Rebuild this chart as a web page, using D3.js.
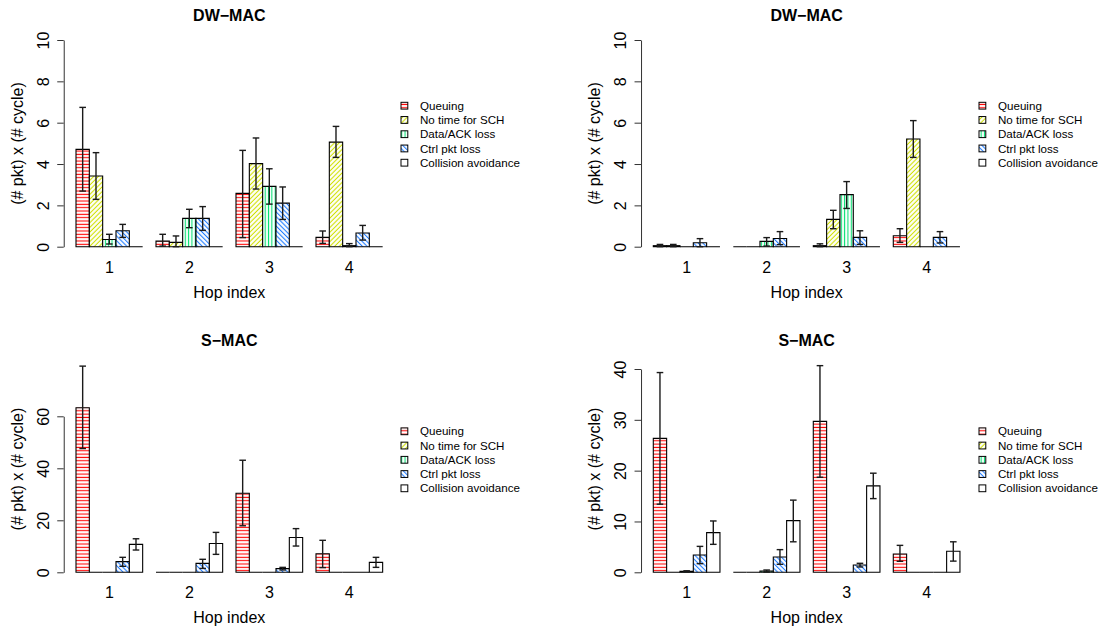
<!DOCTYPE html>
<html><head><meta charset="utf-8">
<script src="https://cdn.jsdelivr.net/npm/d3@7"></script>
<style>body{margin:0;background:#fff}</style>
</head><body>
<script>
// ---------- data ----------
const hops = ["1", "2", "3", "4"];
const seriesNames = ["Queuing", "No time for SCH", "Data/ACK loss", "Ctrl pkt loss", "Collision avoidance"];
const seriesColors = ["#ff0000", "#cfe000", "#00e070", "#1e7bff", null];
const hatchAngles = [0, -45, 90, 45, null];

// DW-MAC (left): rows = series, columns = hops
const dwLeftMean  = [[4.71, 0.27, 2.58, 0.45], [3.42, 0.21, 4.02, 5.06], [0.35, 1.37, 2.92, 0.05], [0.77, 1.37, 2.11, 0.66], [0, 0, 0, 0]];
const dwLeftUpper = [[6.74, 0.60, 4.66, 0.76], [4.55, 0.52, 5.26, 5.82], [0.60, 1.81, 3.77, 0.15], [1.08, 1.94, 2.89, 1.03], [0, 0, 0, 0]];
const dwLeftLower = [[2.69, 0.03, 0.44, 0.16], [2.29, 0.00, 2.79, 4.32], [0.13, 0.92, 2.06, 0.00], [0.45, 0.79, 1.32, 0.32], [0, 0, 0, 0]];

// DW-MAC (right)
const dwRightMean  = [[0.05, 0, 0.05, 0.53], [0.05, 0, 1.32, 5.21], [0, 0.26, 2.52, 0], [0.19, 0.40, 0.45, 0.45], [0, 0, 0, 0]];
const dwRightUpper = [[0.11, 0, 0.14, 0.87], [0.11, 0, 1.76, 6.10], [0, 0.44, 3.15, 0], [0.39, 0.73, 0.77, 0.73], [0, 0, 0, 0]];
const dwRightLower = [[0.00, 0, 0.00, 0.21], [0.00, 0, 0.87, 4.32], [0, 0.03, 1.85, 0], [0.00, 0.10, 0.11, 0.18], [0, 0, 0, 0]];

// S-MAC (left)
const smLeftMean  = [[63.3, 0, 30.4, 7.15], [0, 0, 0, 0], [0, 0, 0, 0], [4.10, 3.45, 1.40, 0], [10.75, 11.1, 13.4, 3.80]];
const smLeftUpper = [[79.3, 0, 43.1, 12.3], [0, 0, 0, 0], [0, 0, 0, 0], [5.76, 5.00, 1.90, 0], [12.90, 15.35, 16.8, 5.75]];
const smLeftLower = [[47.6, 0, 17.9, 1.80], [0, 0, 0, 0], [0, 0, 0, 0], [2.30, 1.50, 0.90, 0], [8.57, 6.90, 10.1, 1.90]];

// S-MAC (right)
const smRightMean  = [[26.36, 0, 29.7, 3.60], [0, 0, 0, 0], [0.20, 0.25, 0, 0], [3.40, 3.00, 1.44, 0], [7.80, 10.16, 17.0, 4.13]];
const smRightUpper = [[39.3, 0, 40.66, 5.30], [0, 0, 0, 0], [0.30, 0.45, 0, 0], [5.10, 4.46, 1.77, 0], [10.1, 14.2, 19.5, 6.00]];
const smRightLower = [[13.4, 0, 18.7, 2.16], [0, 0, 0, 0], [0.10, 0.05, 0, 0], [1.70, 1.57, 1.05, 0], [5.50, 6.00, 14.5, 2.20]];

const dwTicks = [0, 2, 4, 6, 8, 10];
const smLeftTicks = [0, 20, 40, 60];
const smRightTicks = [0, 10, 20, 30, 40];

// ---------- drawing ----------
const FONT = "'Liberation Sans', Arial, Helvetica, sans-serif";
const svg = d3.select("body").append("svg").attr("width", 1104).attr("height", 630)
  .style("font-family", FONT);
const defs = svg.append("defs");

seriesColors.forEach((c, i) => {
  if (!c) return;
  const p = defs.append("pattern").attr("id", "hatch" + i)
    .attr("patternUnits", "userSpaceOnUse").attr("width", 10).attr("height", 3.33)
    .attr("patternTransform", `rotate(${hatchAngles[i]})`);
  p.append("rect").attr("width", 10).attr("height", 3.33).attr("fill", "#fff");
  p.append("line").attr("x1", 0).attr("x2", 10).attr("y1", 1.2).attr("y2", 1.2)
    .attr("stroke", c).attr("stroke-width", 1.1);
});
const fillOf = i => seriesColors[i] ? `url(#hatch${i})` : "#fff";

const panels = [
  {title: "DW\u2212MAC", mean: dwLeftMean, up: dwLeftUpper, lo: dwLeftLower, ticks: dwTicks,
   bar0: 76, yBase: 246.7, yTop: 40, dy: 0, legX: 401},
  {title: "DW\u2212MAC", mean: dwRightMean, up: dwRightUpper, lo: dwRightLower, ticks: dwTicks,
   bar0: 653.3, yBase: 246.7, yTop: 40, dy: 0, legX: 979},
  {title: "S\u2212MAC", mean: smLeftMean, up: smLeftUpper, lo: smLeftLower, ticks: smLeftTicks,
   bar0: 76, yBase: 572.3, yTop: 416.3, dy: 325.6, legX: 401},
  {title: "S\u2212MAC", mean: smRightMean, up: smRightUpper, lo: smRightLower, ticks: smRightTicks,
   bar0: 653.3, yBase: 572.3, yTop: 369, dy: 325.6, legX: 979}
];

const BW = 13.333;
panels.forEach(P => {
  const g = svg.append("g");
  const x = d3.scaleLinear().domain([1, 24]).range([P.bar0, P.bar0 + 23 * BW]);
  const ymax = P.ticks[P.ticks.length - 1];
  const y = d3.scaleLinear().domain([0, ymax]).range([P.yBase, P.yTop]);
  const axisX = x(0.08);
  const cx = (x(0.08) + x(24.92)) / 2;

  // bars
  const bars = [];
  P.mean.forEach((row, s) => row.forEach((v, h) => {
    bars.push({s, h, v, up: P.up[s][h], lo: P.lo[s][h], u: 1 + h * 6 + s});
  }));
  g.selectAll("path.bar").data(bars).join("path").attr("class", "bar")
    .attr("d", d => {
      const x0 = x(d.u), x1 = x(d.u + 1), y0 = y(0), y1 = y(d.v);
      return `M${x0},${y0}V${y1}H${x1}V${y0}Z`;
    })
    .attr("fill", d => fillOf(d.s)).attr("stroke", "#000").attr("stroke-width", 1.1);

  // error bars
  const eb = bars.filter(d => d.up > d.lo);
  const eg = g.selectAll("g.eb").data(eb).join("g").attr("class", "eb")
    .attr("stroke", "#1a1a1a").attr("stroke-width", 1.4).attr("fill", "none");
  eg.append("line").attr("x1", d => x(d.u + 0.5)).attr("x2", d => x(d.u + 0.5))
    .attr("y1", d => y(d.lo)).attr("y2", d => y(d.up));
  eg.append("line").attr("x1", d => x(d.u + 0.5) - 3.3).attr("x2", d => x(d.u + 0.5) + 3.3)
    .attr("y1", d => y(d.lo)).attr("y2", d => y(d.lo));
  eg.append("line").attr("x1", d => x(d.u + 0.5) - 3.3).attr("x2", d => x(d.u + 0.5) + 3.3)
    .attr("y1", d => y(d.up)).attr("y2", d => y(d.up));

  // y axis
  const ya = g.append("g").attr("transform", `translate(${axisX},0)`)
    .call(d3.axisLeft(y).tickValues(P.ticks).tickSize(6.5).tickSizeOuter(0).tickFormat(d3.format("d")));
  ya.select(".domain").attr("stroke", "#333").attr("stroke-width", 1);
  ya.selectAll(".tick line").attr("stroke", "#333");
  ya.selectAll(".tick text").attr("x", null).attr("dy", null)
    .attr("transform", "translate(-14.8,0) rotate(-90)")
    .attr("text-anchor", "middle").attr("fill", "#000")
    .style("font-size", "16px").style("font-family", FONT);

  // x tick labels (group centers)
  g.selectAll("text.hop").data(hops).join("text").attr("class", "hop")
    .attr("x", (d, i) => x(1 + i * 6 + 2.5)).attr("y", 272.5 + P.dy)
    .attr("text-anchor", "middle").style("font-size", "16px").text(d => d);

  // labels
  g.append("text").attr("x", cx).attr("y", 297.5 + P.dy).attr("text-anchor", "middle")
    .style("font-size", "16px").text("Hop index");
  g.append("text").attr("x", cx).attr("y", 20.8 + P.dy).attr("text-anchor", "middle")
    .style("font-size", "16px").style("font-weight", "bold").text(P.title);
  g.append("text").attr("transform", `translate(${axisX - 46.5},${143.5 + P.dy}) rotate(-90)`)
    .attr("text-anchor", "middle").attr("dy", "0.35em").style("font-size", "16px")
    .text("(# pkt) x (# cycle)");

  // legend
  const lg = g.append("g");
  const rowY = i => 105.7 + P.dy + i * 14.25;
  seriesNames.forEach((nm, i) => {
    lg.append("rect").attr("x", P.legX).attr("y", rowY(i) - 3.4).attr("width", 6.8).attr("height", 6.8)
      .attr("fill", fillOf(i)).attr("stroke", "#000").attr("stroke-width", 1);
    lg.append("text").attr("x", P.legX + 19).attr("y", rowY(i)).attr("dy", "0.35em")
      .style("font-size", "11.6px").text(nm);
  });
});
</script>
</body></html>
